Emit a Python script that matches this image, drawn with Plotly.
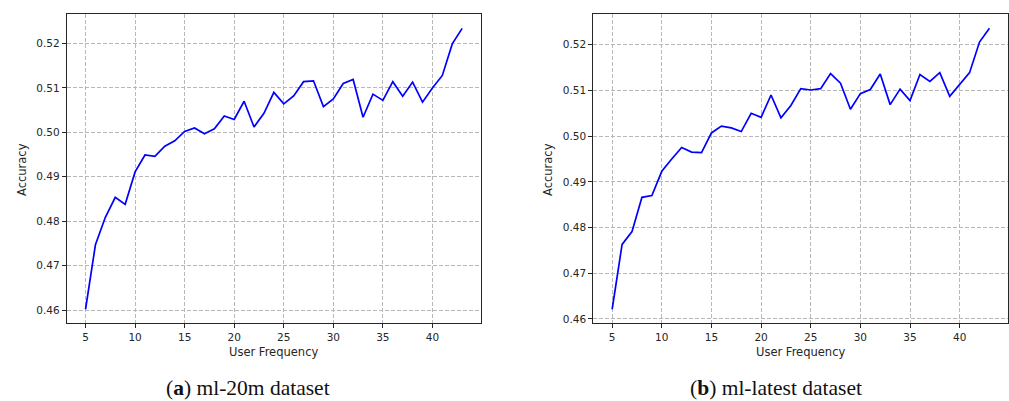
import plotly.graph_objects as go

freq = list(range(5, 44))
acc_20m = [0.4602, 0.4747, 0.4809, 0.4854, 0.4838, 0.4911, 0.4949, 0.4946, 0.4969, 0.4981,
           0.5002, 0.5010, 0.4997, 0.5008, 0.5037, 0.5029, 0.5070, 0.5012, 0.5043, 0.5090,
           0.5064, 0.5082, 0.5114, 0.5116, 0.5058, 0.5075, 0.5110, 0.5119, 0.5034, 0.5086,
           0.5072, 0.5114, 0.5081, 0.5113, 0.5068, 0.5100, 0.5128, 0.5199, 0.5234]
acc_latest = [0.4621, 0.4763, 0.4791, 0.4866, 0.4870, 0.4923, 0.4950, 0.4975, 0.4965, 0.4964,
              0.5007, 0.5022, 0.5018, 0.5010, 0.5050, 0.5041, 0.5090, 0.5040, 0.5067, 0.5104,
              0.5101, 0.5104, 0.5137, 0.5116, 0.5059, 0.5093, 0.5102, 0.5136, 0.5069, 0.5103,
              0.5078, 0.5135, 0.5120, 0.5139, 0.5087, 0.5113, 0.5139, 0.5206, 0.5236]
xticks = [5, 10, 15, 20, 25, 30, 35, 40]
yticks = [0.46, 0.47, 0.48, 0.49, 0.50, 0.51, 0.52]
ytick_text = ["0.46", "0.47", "0.48", "0.49", "0.50", "0.51", "0.52"]
x_title = "User Frequency"
y_title = "Accuracy"
captions = ["(<b>a</b>) ml-20m dataset", "(<b>b</b>) ml-latest dataset"]

W, H = 1009, 401
fig = go.Figure()
fig.add_trace(go.Scatter(x=freq, y=acc_20m, mode="lines", line=dict(color="#0000ff", width=1.7),
                         xaxis="x", yaxis="y", showlegend=False))
fig.add_trace(go.Scatter(x=freq, y=acc_latest, mode="lines", line=dict(color="#0000ff", width=1.7),
                         xaxis="x2", yaxis="y2", showlegend=False))

def rng(vals):
    lo, hi = min(vals), max(vals)
    m = (hi - lo) * 0.05
    return [lo - m, hi + m]

tickfont = dict(family="DejaVu Sans", size=10.5, color="#262626")
common_ax = dict(showline=True, linecolor="#262626", linewidth=1, mirror=True,
                 ticks="outside", ticklen=4, tickcolor="#262626", tickwidth=1,
                 showgrid=True, gridcolor="#b8b8b8", gridwidth=0.8, griddash="4px,2px",
                 zeroline=False, tickfont=tickfont)

xr = [5 - 38 * 0.05, 43 + 38 * 0.05]
top = 1 - 14.3 / H
bot = 1 - 323.3 / H
fig.update_layout(
    width=W, height=H, margin=dict(l=0, r=0, t=0, b=0),
    plot_bgcolor="white", paper_bgcolor="white",
    xaxis=dict(domain=[66.7 / W, 481 / W], range=xr, tickvals=xticks, anchor="y", **common_ax),
    yaxis=dict(domain=[bot, top], range=rng(acc_20m), tickvals=yticks, ticktext=ytick_text, anchor="x", **common_ax),
    xaxis2=dict(domain=[593.3 / W, 1008.3 / W], range=xr, tickvals=xticks, anchor="y2", **common_ax),
    yaxis2=dict(domain=[bot, top], range=rng(acc_latest), tickvals=yticks, ticktext=ytick_text, anchor="x2", **common_ax),
)

lab_font = dict(family="DejaVu Sans", size=11.5, color="#262626")
cap_font = dict(family="Liberation Serif", size=21.5, color="#111111")
for cx, ax_x, capx, cap in [((66.7 + 481) / 2, 22, 248, captions[0]),
                            ((593.3 + 1008.3) / 2, 548, 776, captions[1])]:
    fig.add_annotation(x=cx / W, y=1 - 352 / H, xref="paper", yref="paper", text=x_title,
                       showarrow=False, font=lab_font, xanchor="center", yanchor="middle")
    fig.add_annotation(x=ax_x / W, y=1 - 170 / H, xref="paper", yref="paper", text=y_title,
                       showarrow=False, font=lab_font, textangle=-90, xanchor="center", yanchor="middle")
    fig.add_annotation(x=capx / W, y=1 - 388 / H, xref="paper", yref="paper", text=cap,
                       showarrow=False, font=cap_font, xanchor="center", yanchor="middle")

fig.write_html("out.html")
